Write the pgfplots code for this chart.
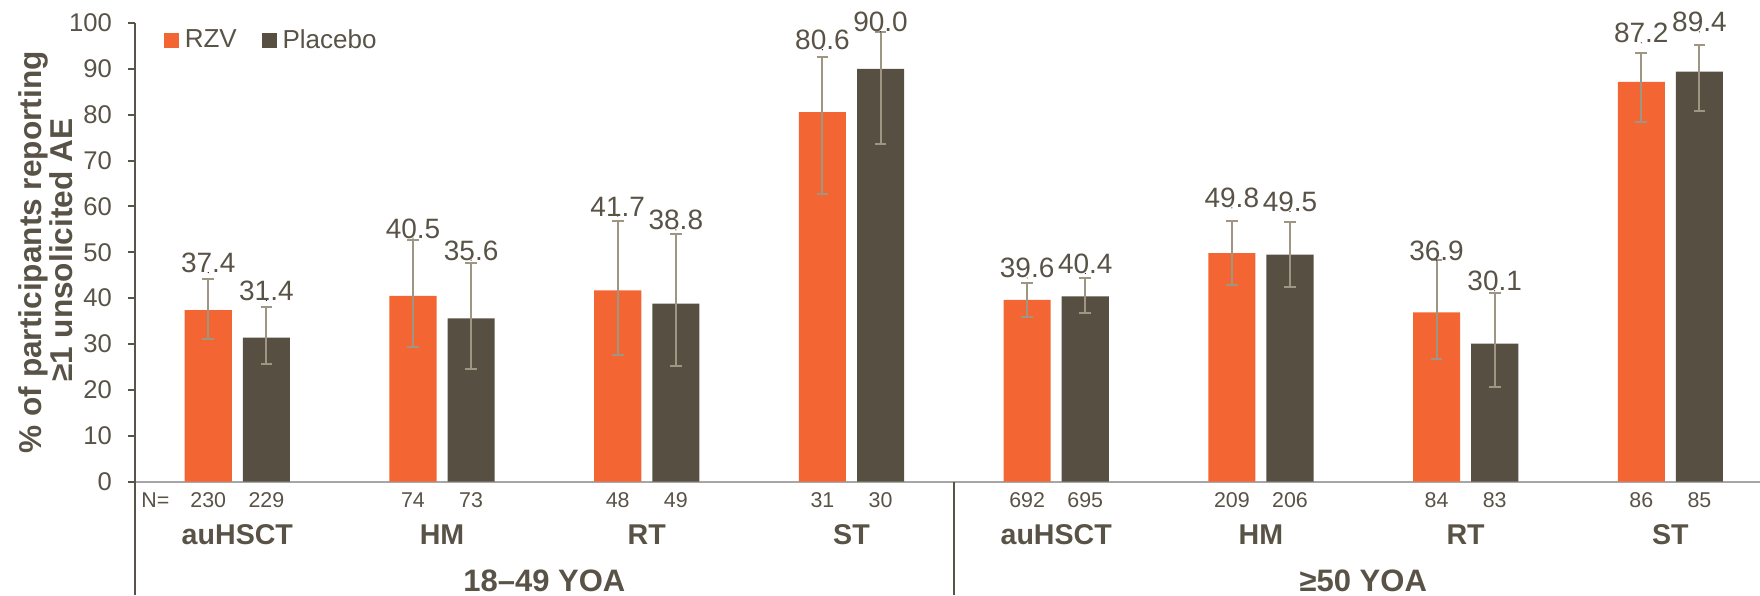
\documentclass[border=0pt]{standalone}
\usepackage{fontspec}
\setmainfont{Liberation Sans}
\usepackage{pgfplots}
\pgfplotsset{compat=1.18}
\usepackage{pgfplotstable}
\definecolor{rzv}{HTML}{F36633}
\definecolor{plc}{HTML}{575042}
\definecolor{errc}{HTML}{9E9682}
\definecolor{txt}{HTML}{595246}
\definecolor{axc}{HTML}{5A5448}
\definecolor{basec}{HTML}{A6A6A6}

\pgfplotstableread{
x y ep em ly lab
-0.142 37.4 6.7 6.2 45.6 37.4
0.858 40.5 12.2 11.2 53.1 40.5
1.858 41.7 15.2 14.0 57.9 41.7
2.858 80.6 12.0 17.8 94.2 80.6
3.858 39.6 3.7 3.6 44.4 39.6
4.858 49.8 7.0 6.9 59.7 49.8
5.858 36.9 11.4 10.2 48.3 36.9
6.858 87.2 6.3 8.8 95.7 87.2
}\rzvdata

\pgfplotstableread{
x y ep em ly lab
0.142 31.4 6.6 5.8 39.5 31.4
1.142 35.6 12.1 11.0 48.3 35.6
2.142 38.8 15.2 13.5 54.9 38.8
3.142 90.0 8.0 16.4 98.1 90.0
4.142 40.4 3.9 3.6 45.4 40.4
5.142 49.5 7.1 7.0 58.9 49.5
6.142 30.1 11.1 9.5 41.6 30.1
7.142 89.4 5.8 8.5 98.1 89.4
}\plcdata

\newcommand{\fsz}[1]{\fontsize{#1}{#1}\selectfont}

\begin{document}
\begin{tikzpicture}
\begin{axis}[
  at={(0,0)}, anchor=south west,
  scale only axis,
  width=812.5pt, height=229.17pt,
  xmin=-0.5, xmax=7.438,
  ymin=0, ymax=100,
  clip=false,
  axis lines*=left,
  x axis line style={draw=basec, line width=1pt},
  y axis line style={draw=axc, line width=1pt},
  xtick=\empty,
  ytick={0,10,...,100},
  tick align=outside,
  major tick length=3.5pt,
  ytick style={draw=axc, line width=1pt},
  /pgf/number format/assume math mode=true,
  yticklabel style={font=\fsz{12.8}, text=txt, xshift=-4.5pt},
  legend style={at={(axis description cs:0,1)}, anchor=west,
    xshift=14.5pt, yshift=-8.65pt, draw=none, fill=none,
    font=\fsz{13}, text=txt, inner sep=0pt, outer sep=0pt,
    nodes={inner sep=0pt},
    /tikz/every odd column/.append style={column sep=3pt},
    /tikz/every even column/.append style={column sep=12.5pt}},
  legend columns=2,
]
\addlegendimage{legend image code/.code={\fill[rzv] (0pt,-3.5pt) rectangle (7pt,3.5pt);}}
\addlegendentry{RZV}
\addlegendimage{legend image code/.code={\fill[plc] (0pt,-3.5pt) rectangle (7pt,3.5pt);}}
\addlegendentry{Placebo}

\addplot[forget plot, ybar, bar width=0.23, bar shift=0, fill=rzv, draw=none,
  error bars/.cd, y dir=both, y explicit,
  error bar style={errc, line width=1pt},
  error mark options={errc, rotate=90, mark size=2.9pt, line width=1pt}]
  table[x=x, y=y, y error plus=ep, y error minus=em]{\rzvdata};
\addplot[forget plot, ybar, bar width=0.23, bar shift=0, fill=plc, draw=none,
  error bars/.cd, y dir=both, y explicit,
  error bar style={errc, line width=1pt},
  error mark options={errc, rotate=90, mark size=2.9pt, line width=1pt}]
  table[x=x, y=y, y error plus=ep, y error minus=em]{\plcdata};

\addplot[forget plot, only marks, mark=*, mark size=0.01pt, mark options={draw=none, fill=none},
  nodes near coords, point meta=explicit symbolic,
  nodes near coords style={anchor=base, inner sep=0pt, font=\fsz{14}, text=txt}]
  table[x=x, y=ly, meta=lab]{\rzvdata};
\addplot[forget plot, only marks, mark=*, mark size=0.01pt, mark options={draw=none, fill=none},
  nodes near coords, point meta=explicit symbolic,
  nodes near coords style={anchor=base, inner sep=0pt, font=\fsz{14}, text=txt}]
  table[x=x, y=ly, meta=lab]{\plcdata};

% lines below the axis
\draw[axc, line width=1pt] (axis cs:-0.5,0) -- ([yshift=-56.75pt]axis cs:-0.5,0);
\draw[axc, line width=0.8pt] (axis cs:3.5,0) -- ([yshift=-56.75pt]axis cs:3.5,0);

% N row
\begin{scope}[every node/.style={font=\fsz{10.7}, text=txt, inner sep=0pt}]
\node[anchor=west] at ([xshift=3pt,yshift=-9.25pt]axis cs:-0.5,0) {N=};
\node at ([yshift=-9.25pt]axis cs:-0.142,0) {230};
\node at ([yshift=-9.25pt]axis cs:0.142,0) {229};
\node at ([yshift=-9.25pt]axis cs:0.858,0) {74};
\node at ([yshift=-9.25pt]axis cs:1.142,0) {73};
\node at ([yshift=-9.25pt]axis cs:1.858,0) {48};
\node at ([yshift=-9.25pt]axis cs:2.142,0) {49};
\node at ([yshift=-9.25pt]axis cs:2.858,0) {31};
\node at ([yshift=-9.25pt]axis cs:3.142,0) {30};
\node at ([yshift=-9.25pt]axis cs:3.858,0) {692};
\node at ([yshift=-9.25pt]axis cs:4.142,0) {695};
\node at ([yshift=-9.25pt]axis cs:4.858,0) {209};
\node at ([yshift=-9.25pt]axis cs:5.142,0) {206};
\node at ([yshift=-9.25pt]axis cs:5.858,0) {84};
\node at ([yshift=-9.25pt]axis cs:6.142,0) {83};
\node at ([yshift=-9.25pt]axis cs:6.858,0) {86};
\node at ([yshift=-9.25pt]axis cs:7.142,0) {85};
\end{scope}

% category labels
\begin{scope}[every node/.style={font=\bfseries\fsz{14.3}, text=txt, inner sep=0pt}]
\node at ([yshift=-26.5pt]axis cs:0,0) {auHSCT};
\node at ([yshift=-26.5pt]axis cs:1,0) {HM};
\node at ([yshift=-26.5pt]axis cs:2,0) {RT};
\node at ([yshift=-26.5pt]axis cs:3,0) {ST};
\node at ([yshift=-26.5pt]axis cs:4,0) {auHSCT};
\node at ([yshift=-26.5pt]axis cs:5,0) {HM};
\node at ([yshift=-26.5pt]axis cs:6,0) {RT};
\node at ([yshift=-26.5pt]axis cs:7,0) {ST};
\end{scope}
\begin{scope}[every node/.style={font=\bfseries\fsz{15.5}, text=txt, inner sep=0pt}]
\node at ([yshift=-49.75pt]axis cs:1.5,0) {18–49 YOA};
\node at ([yshift=-49.75pt]axis cs:5.5,0) {≥50 YOA};
\end{scope}

% y label
\node[rotate=90, anchor=base, font=\bfseries\fsz{15.8}, text=txt, inner sep=0pt]
  at ([xshift=-46.65pt]axis description cs:0,0.5) {\% of participants reporting};
\node[rotate=90, anchor=base, font=\bfseries\fsz{15.8}, text=txt, inner sep=0pt]
  at ([xshift=-31pt,yshift=1pt]axis description cs:0,0.5) {≥1 unsolicited AE};
\end{axis}
\pgfresetboundingbox
\path[use as bounding box] (-67.5pt,-56.75pt) rectangle (812.5pt,240.75pt);
\end{tikzpicture}
\end{document}
